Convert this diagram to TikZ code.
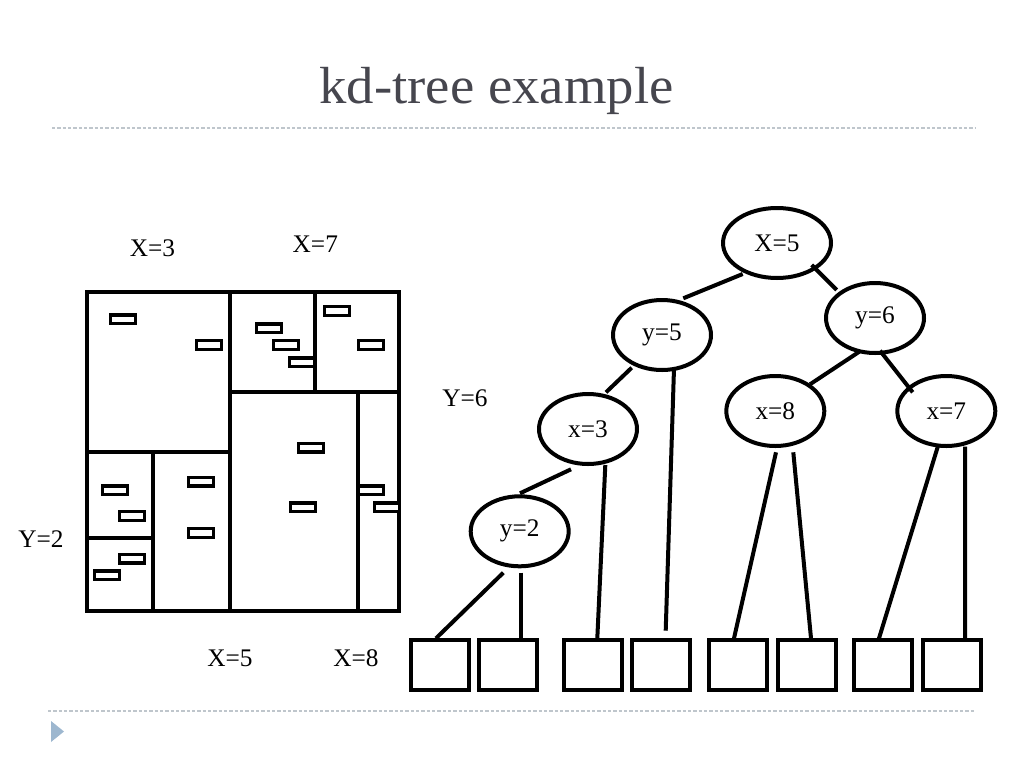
\documentclass[tikz,border=0pt]{standalone}
\usepackage{graphicx}
\usepackage{fontspec}
\setmainfont{Liberation Serif}
\usetikzlibrary{shapes.geometric,calc}
\definecolor{titlegray}{HTML}{46464E}
\definecolor{sepgray}{HTML}{BFC6CC}
\definecolor{bulletblue}{HTML}{9DB7CF}
\begin{document}
\begin{tikzpicture}[x=0.75pt,y=-0.75pt,
  lbl/.style={font=\fontsize{19}{22}\selectfont, inner sep=0pt},
  tnode/.style={ellipse, draw, line width=3pt, minimum width=73.5pt, minimum height=52.5pt, inner sep=0pt, font=\fontsize{19}{22}\selectfont},
  leaf/.style={draw, line width=3pt, minimum width=43.5pt, minimum height=37.5pt, inner sep=0pt},
  conn/.style={line width=3pt},
  gridline/.style={line width=2.8pt},
  ptbox/.style={line width=2.5pt},
  sepline/.style={sepgray, line width=0.9pt, dash pattern=on 2.5pt off 1.5pt}]
\useasboundingbox (0,0) rectangle (1024,768);

% title and separators
\node[font=\fontsize{38}{44}\selectfont, text=titlegray, anchor=base, inner sep=0pt] (title) at (496.5,103) {\scalebox{1.08}[1.03]{kd-tree example}};
\draw[sepline] (52,128) -- (975,128);
\draw[sepline] (48,711) -- (975,711);
\fill[bulletblue] (51,721) -- (64,731.5) -- (51,742) -- cycle;

% partition grid
\draw[gridline] (86.7,291.7) rectangle (399.3,611.3);
\draw[gridline] (230,291.7) -- (230,611.3);
\draw[gridline] (86.7,452) -- (230,452);
\draw[gridline] (153,452) -- (153,611.3);
\draw[gridline] (86.7,538) -- (153,538);
\draw[gridline] (230,392) -- (399.3,392);
\draw[gridline] (315,291.7) -- (315,392);
\draw[gridline] (358,392) -- (358,611.3);

% points
\foreach \px/\py in {123.3/319.3, 209/345, 268.7/328.3, 285.7/345, 301.7/362.3,
  336.7/311, 371/345, 311.3/447.7, 302.7/507.3, 371/490.3, 386.7/507.3,
  115/490.3, 132.3/516, 200.7/481.7, 200.7/533, 132.3/558.7, 106.7/575.3}
  \draw[ptbox, fill=white] (\px,\py) +(-12.5,-4.4) rectangle +(12.5,4.4);

% split labels
\node[lbl] (lx3) at (152.5,248.7) {X=3};
\node[lbl] (lx7) at (315.3,244.2) {X=7};
\node[lbl] (ly6) at (465,398.3) {Y=6};
\node[lbl] (ly2) at (41,539) {Y=2};
\node[lbl] (lx5) at (230,658.3) {X=5};
\node[lbl] (lx8) at (356,658.3) {X=8};

% tree nodes
\node[tnode, minimum width=81pt] (X5) at (777,243) {X=5};
\node[tnode] (y5) at (662,335) {y=5};
\node[tnode] (y6) at (875,318) {y=6};
\node[tnode] (x3) at (588,429) {x=3};
\node[tnode] (x8) at (775.3,411) {x=8};
\node[tnode] (x7) at (946.3,411) {x=7};
\node[tnode] (y2) at (519.7,531.3) {y=2};

% leaves
\node[leaf] (b1) at (439.5,665.3) {};
\node[leaf] (b2) at (507.5,665.3) {};
\node[leaf] (b3) at (593.2,665.3) {};
\node[leaf] (b4) at (661.2,665.3) {};
\node[leaf] (b5) at (738.2,665.3) {};
\node[leaf] (b6) at (806.5,665.3) {};
\node[leaf] (b7) at (883.3,665.3) {};
\node[leaf] (b8) at (951.5,665.3) {};

% connectors
\draw[conn] ($(X5.center)+(-34.3,31)$) -- ($(y5.center)+(21.3,-36.7)$);
\draw[conn] ($(X5.center)+(34.7,22)$) -- ($(y6.center)+(-38.3,-28)$);
\draw[conn] ($(y5.center)+(-30.3,32.7)$) -- ($(x3.center)+(18,-36.7)$);
\draw[conn] ($(y5.center)+(12,33.3)$) -- ($(b4.north)+(4.5,-7.6)$);
\draw[conn] ($(y6.center)+(-15.7,33.7)$) -- ($(x8.center)+(34.7,-26.7)$);
\draw[conn] ($(y6.center)+(5,32.7)$) -- ($(x7.center)+(-33.6,-18.7)$);
\draw[conn] ($(x3.center)+(-17,40.3)$) -- ($(y2.center)+(0.3,-38)$);
\draw[conn] ($(x3.center)+(17.3,36)$) -- ($(b3.north)+(4.1,0)$);
\draw[conn] ($(y2.center)+(-16.4,41.4)$) -- ($(b1.north)+(-3.5,0)$);
\draw[conn] ($(y2.center)+(1,41.4)$) -- ($(b2.north)+(13.2,0)$);
\draw[conn] ($(x8.center)+(0.7,41.3)$) -- ($(b5.north)+(-4.2,0)$);
\draw[conn] ($(x8.center)+(18,41.3)$) -- ($(b6.north)+(4.5,0)$);
\draw[conn] ($(x7.center)+(-8,34)$) -- ($(b7.north)+(-4.3,0)$);
\draw[conn] ($(x7.center)+(18.7,35.7)$) -- ($(b8.north)+(13.5,0)$);
\end{tikzpicture}
\end{document}
